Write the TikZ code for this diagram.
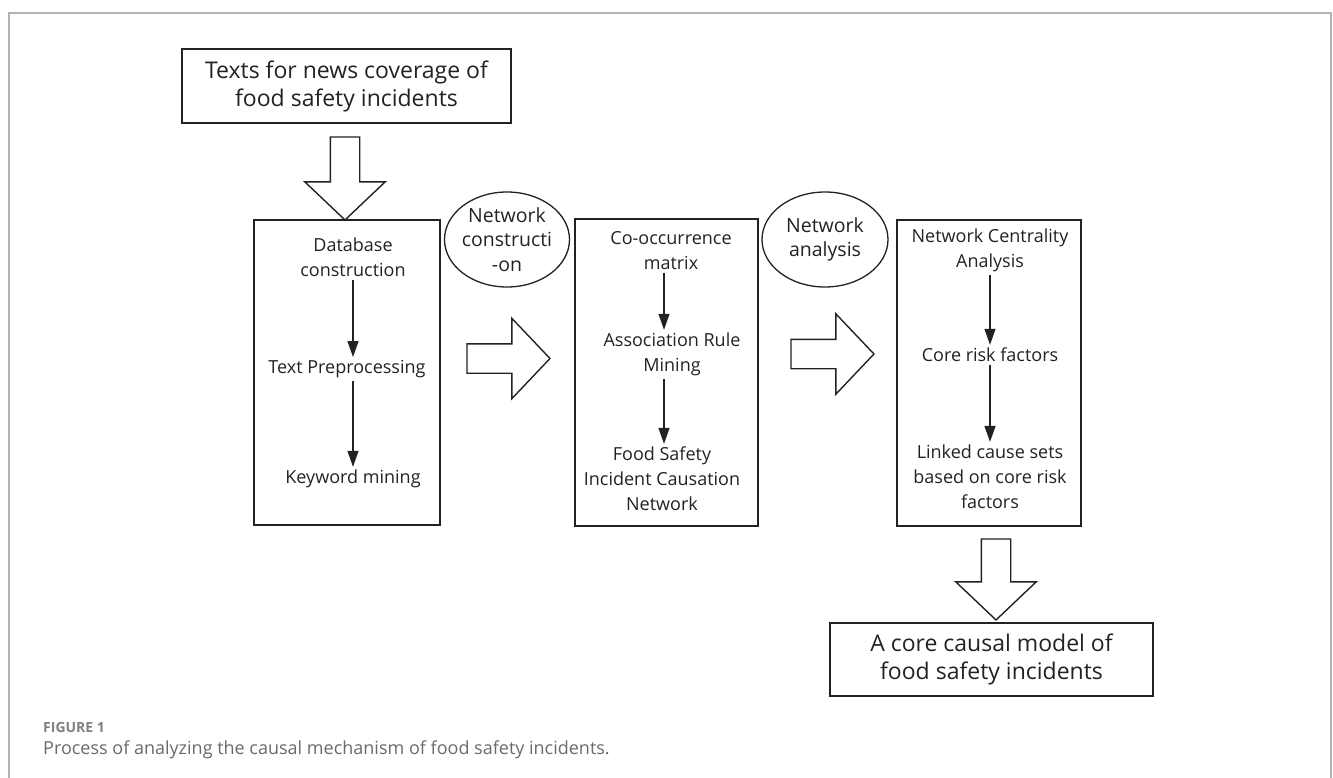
\documentclass[tikz,border=0pt]{standalone}
\usepackage{fontspec}
\setmainfont{Open Sans}
\usetikzlibrary{arrows.meta,shapes.geometric,shapes.arrows}
\definecolor{ink}{HTML}{222222}
\definecolor{capgray}{HTML}{6A6A6A}

\begin{document}
\begin{tikzpicture}[x=1pt,y=-1pt,
    box/.style={draw=ink, line width=1.6pt, inner sep=0pt},
    oval/.style={draw=ink, ellipse, line width=1.3pt, inner sep=0pt},
    txt/.style={align=center, inner sep=3pt, text=ink, font=\fontsize{18}{25}\selectfont},
    ovaltxt/.style={align=center, inner sep=0pt, text=ink, font=\fontsize{19.5}{24.5}\selectfont},
    bigtxt/.style={align=center, text=ink, font=\fontsize{23}{28}\selectfont},
    flow/.style={draw=ink, line width=1.3pt, -{Triangle[length=16pt,width=11pt]}},
    bigarrow/.style={single arrow, draw=ink, line width=1.4pt, inner xsep=0pt, inner ysep=14pt,
        single arrow head extend=25.5pt, single arrow tip angle=93}]
\useasboundingbox (0,0) rectangle (1333,778);
% frame
\draw[black!30, line width=1.5pt] (9,778) -- (9,13) -- (1331,13) -- (1331,778);

% input and output
\node[box, bigtxt, minimum width=329pt, minimum height=74pt] (src) at (346.5,86) {Texts for news coverage of\\food safety incidents};
\node[box, bigtxt, minimum width=323pt, minimum height=73pt] (model) at (991.5,659.5) {A core causal model of\\food safety incidents};

% three stage boxes
\node[box, minimum width=186pt, minimum height=305pt] (s1) at (347,372.5) {};
\node[box, minimum width=183pt, minimum height=307pt] (s2) at (666.5,372.5) {};
\node[box, minimum width=184pt, minimum height=306pt] (s3) at (989,373) {};

% stage 1
\node[txt] (db) at (353,257.5) {Database\\construction};
\node[txt] (tp) at (347,369) {Text Preprocessing};
\node[txt] (kw) at (353,479) {Keyword mining};
\draw[flow] (db) -- (db |- tp.north);
\draw[flow] (tp.south -| db) -- (db |- kw.north);

% stage 2
\node[txt] (co) at (671,250.5) {Co-occurrence\\matrix};
\node[txt] (ar) at (672,354.5) {Association Rule\\Mining};
\node[txt] (fs) at (662,479) {Food Safety\\Incident Causation\\Network};
\draw[flow] (664,0 |- co.south) -- (664,0 |- ar.north);
\draw[flow] (664,0 |- ar.south) -- (664,0 |- fs.north);

% stage 3
\node[txt] (nca) at (990,250.5) {Network Centrality\\Analysis};
\node[txt] (crf) at (990,355) {Core risk factors};
\node[txt] (lcs) at (990,477) {Linked cause sets\\based on core risk\\factors};
\draw[flow] (nca) -- (crf);
\draw[flow] (crf) -- (lcs);

% ovals
\node[oval, minimum width=125pt, minimum height=95pt] (e1) at (507,239.5) {};
\node[ovaltxt] (e1t) at (e1) {Network\\constructi\\-on};
\node[oval, minimum width=126pt, minimum height=95pt] (e2) at (825,239.5) {};
\node[ovaltxt] (e2t) at (e2) {Network\\analysis};

% block arrows
\node[bigarrow, rotate=-90, minimum height=83pt] (a1) at (345,171.5) {};
\node[bigarrow, minimum height=83pt] (a2) at (501.5,358.5) {};
\node[bigarrow, minimum height=83pt] (a3) at (825.5,354) {};
\node[bigarrow, rotate=-90, minimum height=81pt] (a4) at (996,572.5) {};

% caption
\node[anchor=west, inner sep=0pt, text=capgray!85, font=\fontsize{14}{16}\selectfont\bfseries] (fig) at (43,727) {FIGURE 1};
\node[anchor=west, inner sep=0pt, text=capgray, font=\fontsize{18}{20}\selectfont] (cap) at (43,750) {Process of analyzing the causal mechanism of food safety incidents.};
\end{tikzpicture}
\end{document}
